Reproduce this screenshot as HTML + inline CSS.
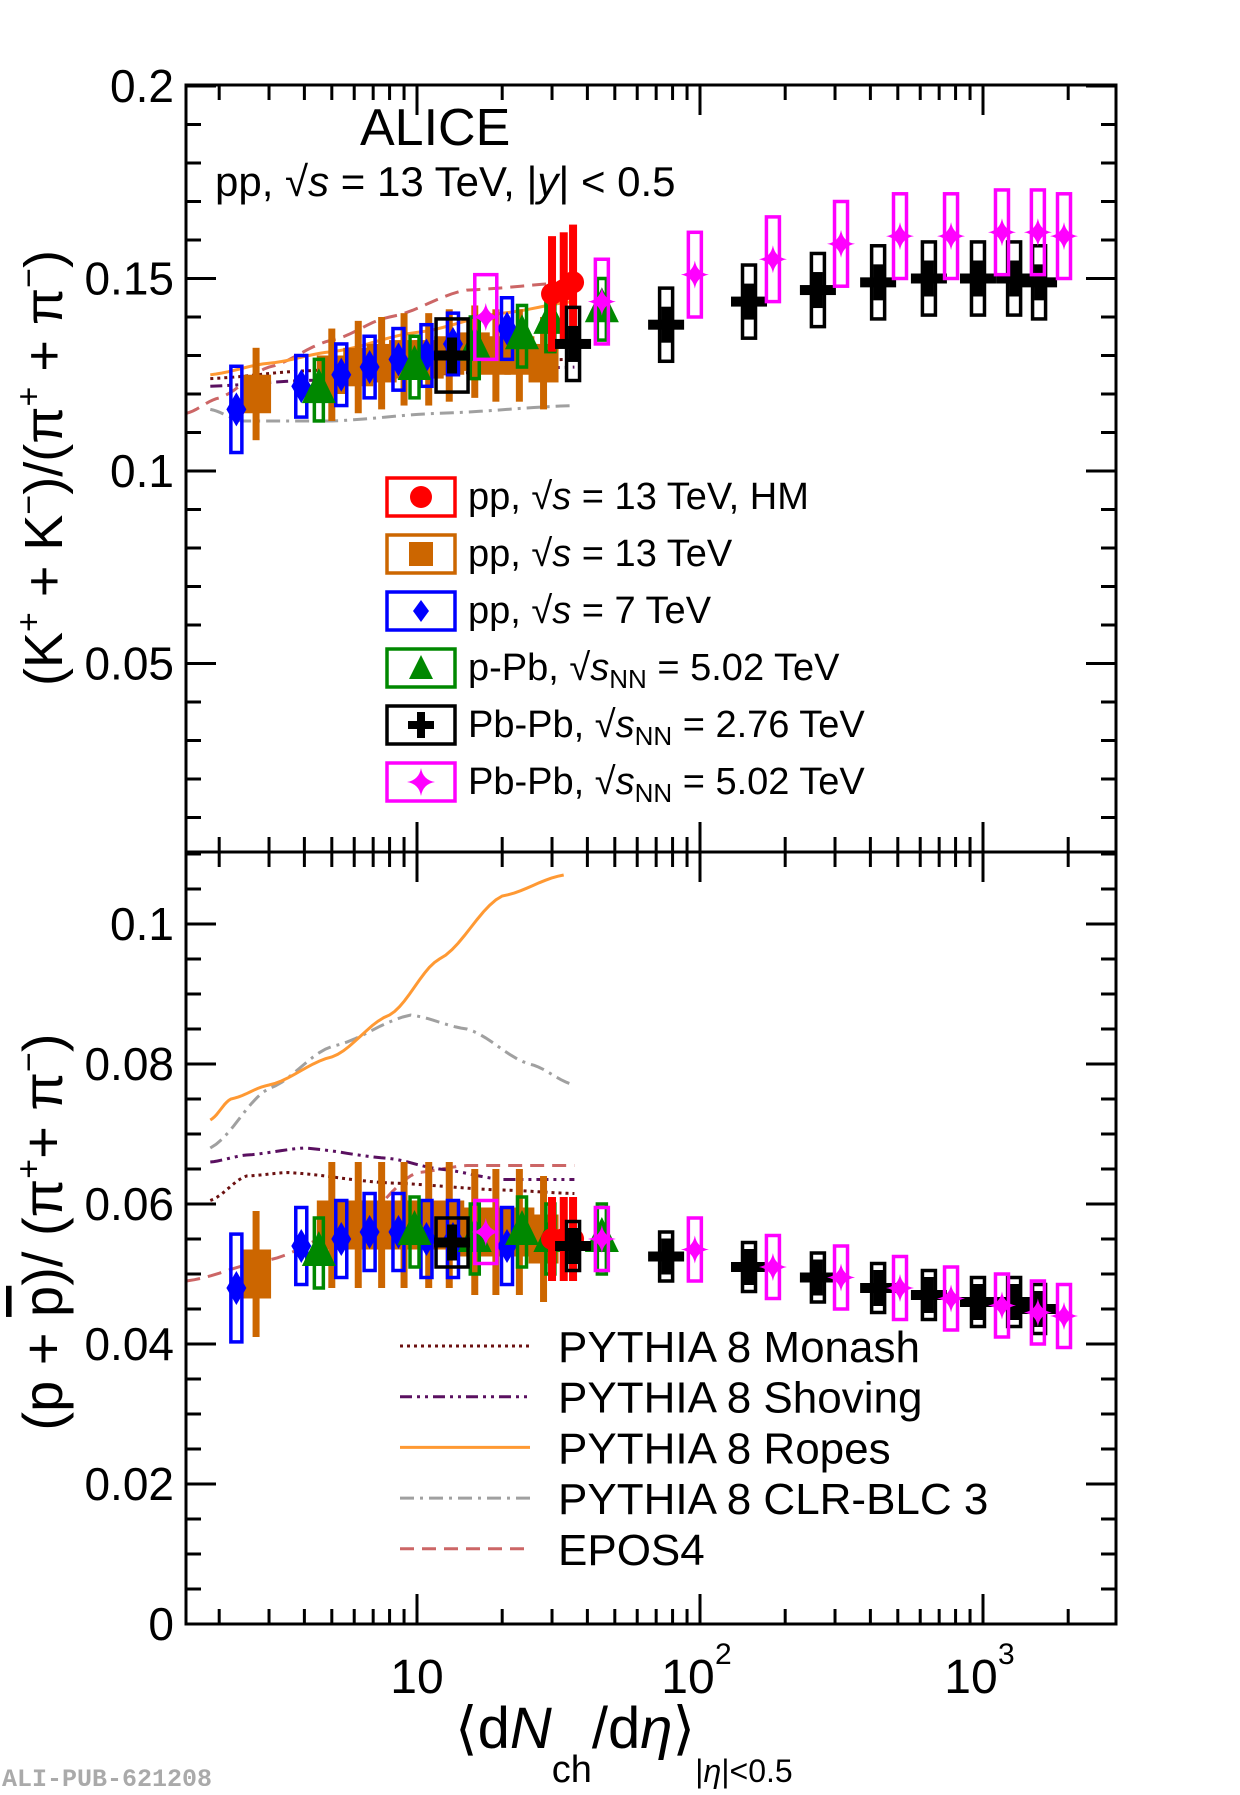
<!DOCTYPE html>
<html><head><meta charset="utf-8"><style>
html,body{margin:0;padding:0;background:#fff;}
svg{display:block;font-family:"Liberation Sans",sans-serif;}
</style></head><body>
<svg id="s" width="1240" height="1795" viewBox="0 0 1240 1795" xmlns="http://www.w3.org/2000/svg"></svg>
<script>
const S=document.getElementById('s');let h='';
const L=186,R=1116,T=85,D=852,B=1624;
const X=v=>417+283*(Math.log10(v)-1);
const YT=v=>86+(0.2-v)*3850;
const YB=v=>1624-v*7000;
h+=`<defs><clipPath id="ct"><rect x="${L}" y="${T}" width="${R-L}" height="${D-T}"/></clipPath><clipPath id="cb"><rect x="${L}" y="${D}" width="${R-L}" height="${B-D}"/></clipPath></defs>`;
function line(pts,Y,col,dash,cl,w){let d=pts.map((p,i)=>(i?'L':'M')+X(p[0]).toFixed(1)+' '+Y(p[1]).toFixed(1)).join(' ');
h+=`<path d="${d}" fill="none" stroke="${col}" stroke-width="${w||3}" ${dash?'stroke-dasharray="'+dash+'"':''} clip-path="url(#${cl})"/>`;}
function smooth(pts){let out=[];for(let i=0;i<pts.length-1;i++){let a=pts[i],b=pts[i+1];for(let t=0;t<1;t+=0.1){let la=Math.log(a[0]),lb=Math.log(b[0]);let s=(1-Math.cos(Math.PI*t))/2;out.push([Math.exp(la+(lb-la)*t),a[1]+(b[1]-a[1])*(t*0.5+s*0.5)]);}}out.push(pts[pts.length-1]);return out;}
const mon='#6b1010',sho='#5a1060',rop='#ff9933',clr='#a0a0a0',epo='#cc6666';
line(smooth([[1.53,0.115],[2,0.119],[3,0.127],[5,0.134],[8,0.140],[15,0.147],[36,0.149]]),YT,epo,'14 8','ct');
line(smooth([[1.86,0.116],[2.4,0.113],[5,0.113],[12,0.115],[36,0.117]]),YT,clr,'14 6 3 6','ct');
line(smooth([[1.86,0.122],[4,0.1235],[10,0.125],[36,0.127]]),YT,sho,'12 5 3 5 3 5','ct');
line(smooth([[1.86,0.124],[4,0.126],[10,0.128],[36,0.129]]),YT,mon,'3 4','ct');
line(smooth([[1.86,0.125],[3,0.128],[5,0.131],[10,0.136],[20,0.141],[36,0.144]]),YT,rop,'','ct');
line(smooth([[1.53,0.049],[3,0.052],[6,0.057],[10,0.0645],[15,0.0655],[36,0.0655]]),YB,epo,'14 8','cb');
line(smooth([[1.86,0.068],[3,0.0765],[5,0.0825],[9.5,0.087],[15,0.085],[25,0.080],[36,0.077]]),YB,clr,'14 6 3 6','cb');
line(smooth([[1.86,0.066],[2.5,0.067],[4,0.068],[8,0.0665],[12,0.065],[20,0.0635],[36,0.0635]]),YB,sho,'12 5 3 5 3 5','cb');
line(smooth([[1.86,0.0605],[2.5,0.064],[3.5,0.0645],[8,0.063],[20,0.062],[36,0.0615]]),YB,mon,'3 4','cb');
line(smooth([[1.86,0.072],[2.2,0.075],[3,0.077],[5,0.081],[8,0.087],[12,0.095],[20,0.104],[33,0.107]]),YB,rop,'','cb');
function diamond(x,y,c){h+=`<path d="M${x} ${y-17}L${x+10} ${y}L${x} ${y+17}L${x-10} ${y}Z" fill="${c}"/>`;}
function tri(x,y,c){h+=`<path d="M${x} ${y-22}L${x+17} ${y+13}L${x-17} ${y+13}Z" fill="${c}"/>`;}
function circ(x,y,c){h+=`<circle cx="${x}" cy="${y}" r="11" fill="${c}"/>`;}
function cross(x,y,c){h+=`<rect x="${x-18}" y="${y-5}" width="36" height="10" fill="${c}"/><rect x="${x-5}" y="${y-18}" width="10" height="36" fill="${c}"/>`;}
function star(x,y,c){h+=`<path d="M${x} ${y-14}Q${x+2} ${y-2} ${x+14} ${y}Q${x+2} ${y+2} ${x} ${y+14}Q${x-2} ${y+2} ${x-14} ${y}Q${x-2} ${y-2} ${x} ${y-14}Z" fill="${c}"/>`;}
function obox(x,y1,y2,w,c){h+=`<rect x="${x-w/2}" y="${Math.min(y1,y2)}" width="${w}" height="${Math.abs(y2-y1)}" fill="none" stroke="${c}" stroke-width="3.5"/>`;}
function fbox(x,y1,y2,w,c){h+=`<rect x="${x-w/2}" y="${Math.min(y1,y2)}" width="${w}" height="${Math.abs(y2-y1)}" fill="${c}"/>`;}
function ebar(x,y1,y2,c,w){h+=`<rect x="${x-(w||3.5)}" y="${Math.min(y1,y2)}" width="${(w||3.5)*2}" height="${Math.abs(y2-y1)}" fill="${c}"/>`;}
const orange='#cc6600',blue='#0000ff',green='#008800',red='#ff0000',mag='#ff00ff';
function panel(Y,k){
 const pp13=[[2.7,0.120,0.050],[5.0,0.125,0.057],[6.2,0.127,0.057],[7.5,0.128,0.057],[9,0.129,0.057],[11,0.129,0.057],[13,0.130,0.057],[16,0.131,0.056],[19,0.130,0.056],[23,0.130,0.056],[28,0.128,0.055]];
 pp13.forEach(p=>{let v=p[k];let s=k==1?0.005:0.0035,e=k==1?0.012:0.009;ebar(X(p[0]),Y(v-e),Y(v+e),orange,3.5);fbox(X(p[0]),Y(v-s),Y(v+s),30,orange);});
 const pp7=[[2.3,0.116,0.048],[3.9,0.122,0.054],[5.4,0.125,0.055],[6.8,0.127,0.056],[8.6,0.129,0.056],[10.8,0.130,0.055],[13.4,0.133,0.055],[20.8,0.137,0.054]];
 pp7.forEach((p,i)=>{let v=p[k];let s=(k==1?0.008:0.0055)*(i==0?1.4:1);obox(X(p[0]),Y(v-s),Y(v+s),11,blue);diamond(X(p[0]),Y(v),blue);});
 const pPb=[[4.5,0.121,0.053],[9.8,0.127,0.056],[16,0.132,0.055],[23.5,0.135,0.056],[29.6,0.139,0.055],[45,0.142,0.055]];
 pPb.forEach(p=>{let v=p[k];let s=k==1?0.008:0.005;obox(X(p[0]),Y(v-s),Y(v+s),9,green);tri(X(p[0]),Y(v),green);});
 const hm=[[30,0.146,0.055],[33,0.147,0.055],[35.6,0.149,0.055]];
 hm.forEach(p=>{let v=p[k];let e=k==1?0.015:0.006;ebar(X(p[0]),Y(v-e),Y(v+e),red,4);circ(X(p[0]),Y(v),red);});
 const pb2=[[13.3,0.130,0.0545],[35.6,0.133,0.054],[75.9,0.138,0.0525],[149,0.144,0.051],[261,0.147,0.0495],[426,0.149,0.048],[644,0.150,0.047],[960,0.150,0.046],[1288,0.150,0.046],[1578,0.149,0.045]];
 pb2.forEach((p,i)=>{let v=p[k];let s=k==1?0.0095:0.0035;obox(X(p[0]),Y(v-s),Y(v+s),i==0?32:13,'#000');cross(X(p[0]),Y(v),'#000');});
 const pb5=[[17.5,0.140,0.056],[45,0.144,0.055],[95.9,0.151,0.0535],[181,0.155,0.051],[315,0.159,0.0495],[509,0.161,0.048],[771,0.161,0.0465],[1167,0.162,0.0455],[1563,0.162,0.0445],[1933,0.161,0.044]];
 pb5.forEach((p,i)=>{let v=p[k];let s=k==1?0.011:0.0045;obox(X(p[0]),Y(v-s),Y(v+s),i==0?22:13,mag);star(X(p[0]),Y(v),mag);});
}
h+=`<g clip-path="url(#ct)">`;panel(YT,1);h+=`</g><g clip-path="url(#cb)">`;panel(YB,2);h+=`</g>`;
h+=`<rect x="${L}" y="${T}" width="${R-L}" height="${B-T}" fill="none" stroke="#000" stroke-width="3"/><line x1="${L}" y1="${D}" x2="${R}" y2="${D}" stroke="#000" stroke-width="3"/>`;
for(let dec=0;dec<4;dec++)for(let m=1;m<10;m++){let v=m*Math.pow(10,dec);let x=X(v);if(x<L+1||x>R-1)continue;let len=m==1?30:15;
 h+=`<line x1="${x}" y1="${T}" x2="${x}" y2="${T+len}" stroke="#000" stroke-width="3"/>`;
 h+=`<line x1="${x}" y1="${D-len}" x2="${x}" y2="${D+len}" stroke="#000" stroke-width="3"/>`;
 h+=`<line x1="${x}" y1="${B}" x2="${x}" y2="${B-len}" stroke="#000" stroke-width="3"/>`;}
for(let i=1;i<=20;i++){let v=i*0.01;let y=YT(v);if(y>D-2)continue;let len=(i%5==0)?30:15;
 h+=`<line x1="${L}" y1="${y}" x2="${L+len}" y2="${y}" stroke="#000" stroke-width="3"/><line x1="${R}" y1="${y}" x2="${R-len}" y2="${y}" stroke="#000" stroke-width="3"/>`;}
for(let i=1;i<=22;i++){let v=i*0.005;let y=YB(v);if(y<D+2)continue;let len=(i%4==0)?30:15;
 h+=`<line x1="${L}" y1="${y}" x2="${L+len}" y2="${y}" stroke="#000" stroke-width="3"/><line x1="${R}" y1="${y}" x2="${R-len}" y2="${y}" stroke="#000" stroke-width="3"/>`;}
const lab=(t,y)=>h+=`<text x="174" y="${y+16}" font-size="46" text-anchor="end">${t}</text>`;
lab('0.2',YT(0.2));lab('0.15',YT(0.15));lab('0.1',YT(0.1));lab('0.05',YT(0.05));
lab('0.1',YB(0.1));lab('0.08',YB(0.08));lab('0.06',YB(0.06));lab('0.04',YB(0.04));lab('0.02',YB(0.02));lab('0',YB(0));
h+=`<text x="${X(10)}" y="1693" font-size="48" text-anchor="middle">10</text>`;
h+=`<text x="${X(100)-12}" y="1693" font-size="48" text-anchor="middle">10</text><text x="${X(100)+15}" y="1664" font-size="30">2</text>`;
h+=`<text x="${X(1000)-12}" y="1693" font-size="48" text-anchor="middle">10</text><text x="${X(1000)+15}" y="1664" font-size="30">3</text>`;
h+=`<text x="455" y="1748" font-size="58">⟨d<tspan font-style="italic">N</tspan><tspan font-size="38" dy="34">ch</tspan><tspan dy="-34">/d</tspan><tspan font-style="italic">η</tspan>⟩<tspan font-size="32" dy="34">|</tspan><tspan font-size="32" font-style="italic">η</tspan><tspan font-size="32">|&lt;0.5</tspan></text>`;
h+=`<text transform="translate(62,468) rotate(-90)" font-size="54" text-anchor="middle">(K<tspan font-size="34" dy="-22">+</tspan><tspan dy="22"> + K</tspan><tspan font-size="34" dy="-22">−</tspan><tspan dy="22">)/(π</tspan><tspan font-size="34" dy="-22">+</tspan><tspan dy="22"> + π</tspan><tspan font-size="34" dy="-22">−</tspan><tspan dy="22">)</tspan></text>`;
h+=`<text transform="translate(62,1232) rotate(-90)" font-size="56" text-anchor="middle">(p + <tspan text-decoration="overline">p</tspan>)/ (π<tspan font-size="34" dy="-22">+</tspan><tspan dy="22">+ π</tspan><tspan font-size="34" dy="-22">−</tspan><tspan dy="22">)</tspan></text>`;
h+=`<text x="360" y="145" font-size="52">ALICE</text>`;
h+=`<text x="215" y="196" font-size="42">pp, √<tspan font-style="italic">s</tspan> = 13 TeV, |<tspan font-style="italic">y</tspan>| &lt; 0.5</text>`;
const leg=[[red,'circ','pp, √<tspan font-style="italic">s</tspan> = 13 TeV, HM'],[orange,'sq','pp, √<tspan font-style="italic">s</tspan> = 13 TeV'],[blue,'dia','pp, √<tspan font-style="italic">s</tspan> = 7 TeV'],[green,'tri','p-Pb, √<tspan font-style="italic">s</tspan><tspan font-size="26" dy="8">NN</tspan><tspan dy="-8"> = 5.02 TeV</tspan>'],['#000','cross','Pb-Pb, √<tspan font-style="italic">s</tspan><tspan font-size="26" dy="8">NN</tspan><tspan dy="-8"> = 2.76 TeV</tspan>'],[mag,'star','Pb-Pb, √<tspan font-style="italic">s</tspan><tspan font-size="26" dy="8">NN</tspan><tspan dy="-8"> = 5.02 TeV</tspan>']];
leg.forEach((l,i)=>{let y=497+57*i;h+=`<rect x="387" y="${y-19}" width="68" height="38" fill="none" stroke="${l[0]}" stroke-width="3.5"/>`;let x=421;
 if(l[1]=='circ')h+=`<circle cx="${x}" cy="${y}" r="11" fill="${l[0]}"/>`;
 if(l[1]=='sq')h+=`<rect x="${x-12}" y="${y-12}" width="24" height="24" fill="${l[0]}"/>`;
 if(l[1]=='dia')h+=`<path d="M${x} ${y-11}L${x+8} ${y}L${x} ${y+11}L${x-8} ${y}Z" fill="${l[0]}"/>`;
 if(l[1]=='tri')h+=`<path d="M${x} ${y-13}L${x+12} ${y+11}L${x-12} ${y+11}Z" fill="${l[0]}"/>`;
 if(l[1]=='cross')h+=`<rect x="${x-13}" y="${y-4}" width="26" height="8"/><rect x="${x-4}" y="${y-13}" width="8" height="26"/>`;
 if(l[1]=='star')star(x,y,l[0]);
 h+=`<text x="468" y="${y+12}" font-size="38">${l[2]}</text>`;});
const lb=[[mon,'3 4','PYTHIA 8 Monash'],[sho,'12 5 3 5 3 5','PYTHIA 8 Shoving'],[rop,'','PYTHIA 8 Ropes'],[clr,'14 6 3 6','PYTHIA 8 CLR-BLC 3'],[epo,'14 8','EPOS4']];
lb.forEach((l,i)=>{let y=1346+50.7*i;h+=`<line x1="400" y1="${y}" x2="530" y2="${y}" stroke="${l[0]}" stroke-width="3" ${l[1]?'stroke-dasharray="'+l[1]+'"':''}/><text x="558" y="${y+16}" font-size="44">${l[2]}</text>`;});
h+=`<text x="2" y="1786" font-size="25" font-family="Liberation Mono" font-weight="bold" fill="#aaa">ALI-PUB-621208</text>`;
S.innerHTML=h;
</script>
</body></html>
